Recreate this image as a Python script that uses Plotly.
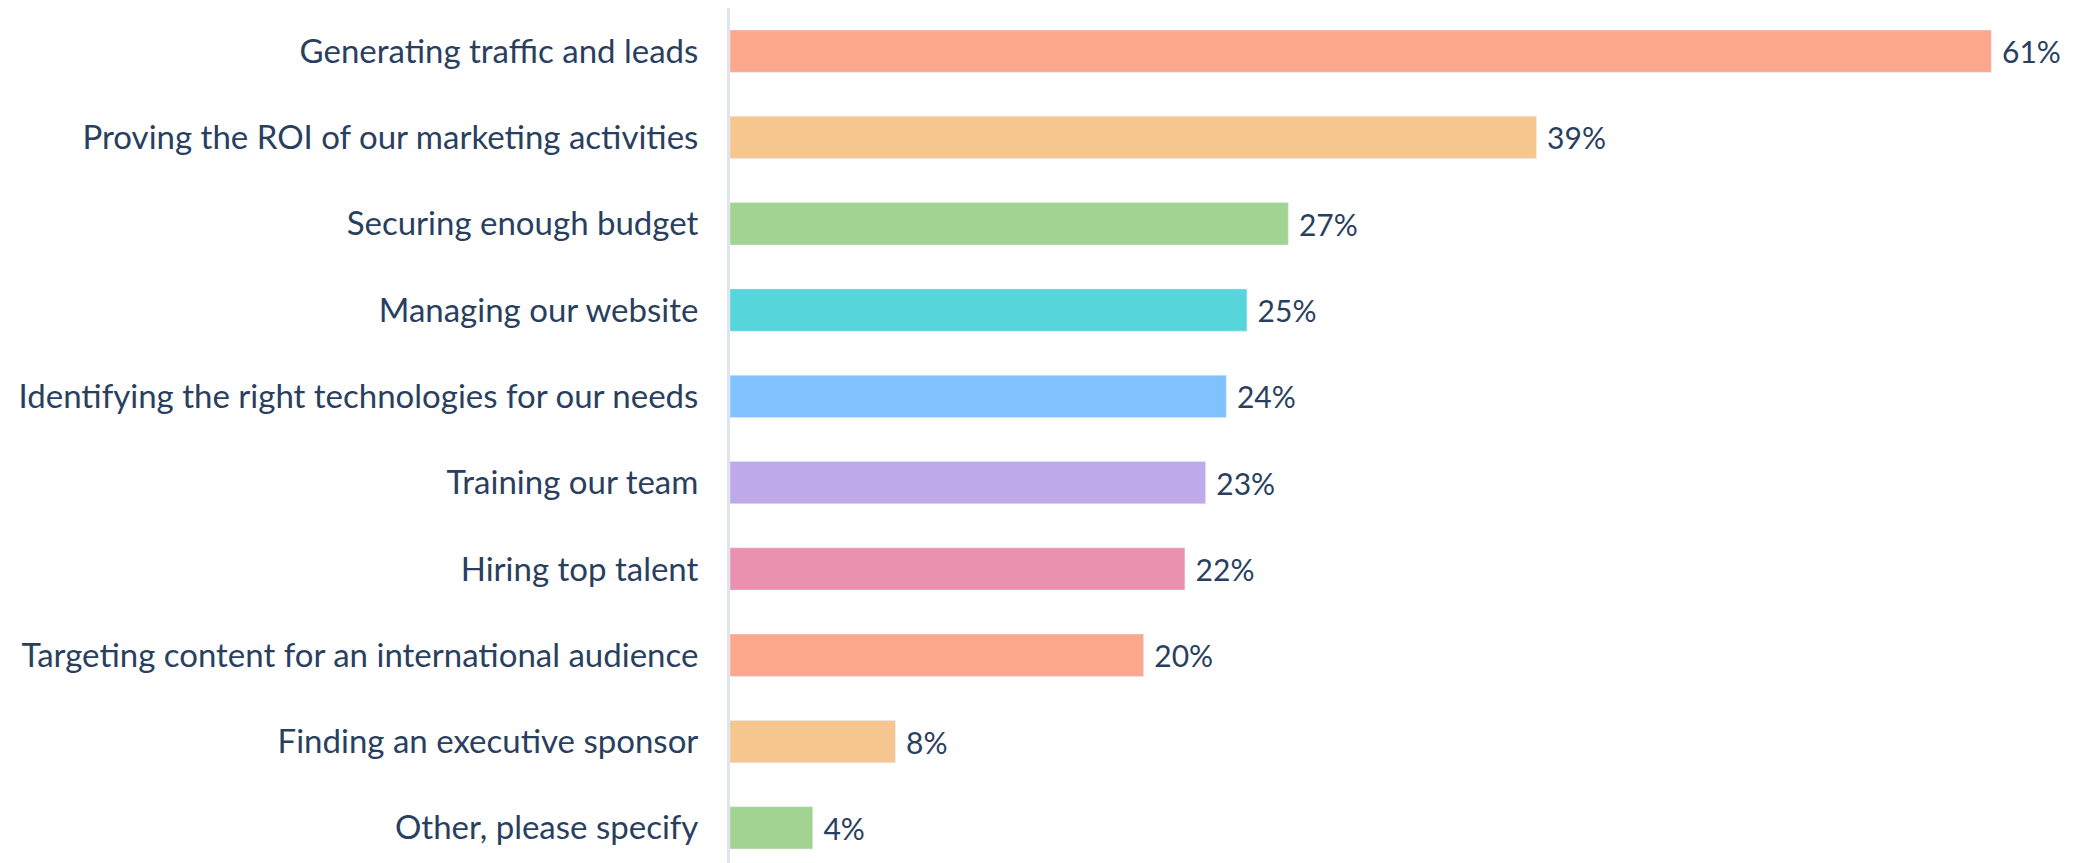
import plotly.graph_objects as go

categories = [
    "Generating traffic and leads",
    "Proving the ROI of our marketing activities",
    "Securing enough budget",
    "Managing our website",
    "Identifying the right technologies for our needs",
    "Training our team",
    "Hiring top talent",
    "Targeting content for an international audience",
    "Finding an executive sponsor",
    "Other, please specify",
]
values = [61, 39, 27, 25, 24, 23, 22, 20, 8, 4]
colors = ["#fda78d", "#f5c68e", "#a3d393", "#56d5db", "#80c1ff",
          "#bea9e9", "#eb91b0", "#fda78d", "#f5c68e", "#a3d393"]

fig = go.Figure()

fig.add_trace(go.Bar(
    y=categories, x=values,
    orientation="h",
    marker_color=colors,
    text=[f"\u00a0{v}%" for v in values],
    textposition="outside",
    constraintext="none",
    cliponaxis=False,
    textfont=dict(size=30, color="#2a3f5f"),
))

fig.update_layout(
    width=2075, height=863,
    margin=dict(l=722, r=10, t=0, b=0),
    plot_bgcolor="white", paper_bgcolor="white",
    font=dict(family="Lato", size=33, color="#2a3f5f"),
    bargap=0.51,
    showlegend=False,
    xaxis=dict(range=[0, 64.95], visible=False),
    yaxis=dict(
        autorange="reversed",
        showline=True, linecolor="#dfe4ee", linewidth=3,
        ticks="", ticklabelstandoff=22,
    ),
)

fig.write_html("out.html")
